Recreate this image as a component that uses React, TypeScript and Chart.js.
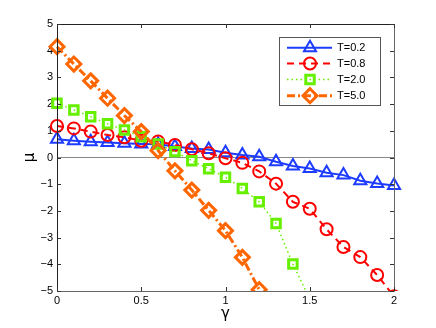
import React, { useEffect, useRef } from "react";
import { Chart, registerables } from "chart.js";

Chart.register(...registerables);

const gammaValues = [0, 0.1, 0.2, 0.3, 0.4, 0.5, 0.6, 0.7, 0.8, 0.9, 1.0, 1.1, 1.2, 1.3, 1.4, 1.5, 1.6, 1.7, 1.8, 1.9, 2.0];
const seriesLabels = ["T=0.2", "T=0.8", "T=2.0", "T=5.0"];
const muT02 = [0.68, 0.63, 0.59, 0.56, 0.53, 0.51, 0.5, 0.41, 0.34, 0.3, 0.18, 0.09, 0.03, -0.16, -0.32, -0.41, -0.57, -0.66, -0.87, -0.97, -1.05];
const muT08 = [1.18, 1.09, 0.97, 0.84, 0.76, 0.63, 0.6, 0.47, 0.31, 0.16, -0.03, -0.2, -0.52, -0.98, -1.66, -1.92, -2.69, -3.35, -3.73, -4.4, -5.2];
const muT20 = [2.03, 1.78, 1.53, 1.26, 1.03, 0.78, 0.51, 0.22, -0.12, -0.42, -0.74, -1.16, -1.66, -2.47, -3.99, -5.3];
const muT50 = [4.15, 3.5, 2.87, 2.22, 1.57, 0.97, 0.26, -0.5, -1.22, -1.98, -2.74, -3.74, -4.95, -6.3];
const xTicks = [0, 0.5, 1, 1.5, 2];
const yTicks = [-5, -4, -3, -2, -1, 0, 1, 2, 3, 4, 5];

const styles = [
  { color: "#1e3cff", dash: [] as number[], width: 2, point: "triangle", radius: 7, pbw: 2 },
  { color: "#ff0000", dash: [7, 5], width: 2, point: "circle", radius: 6, pbw: 2 },
  { color: "#66f000", dash: [1.5, 3], width: 1.5, point: "rect", radius: 6, pbw: 3 },
  { color: "#ff6600", dash: [8, 3, 2, 3], width: 3, point: "rectRot", radius: 7, pbw: 3 },
];
const allSeries = [muT02, muT08, muT20, muT50];

function drawMarker(ctx: CanvasRenderingContext2D, kind: string, x: number, y: number, r: number) {
  ctx.beginPath();
  if (kind === "circle") {
    ctx.arc(x, y, r, 0, Math.PI * 2);
  } else if (kind === "triangle") {
    ctx.moveTo(x, y - r);
    ctx.lineTo(x + r * 0.866, y + r * 0.5);
    ctx.lineTo(x - r * 0.866, y + r * 0.5);
    ctx.closePath();
  } else if (kind === "rect") {
    const s = r * 0.707;
    ctx.rect(x - s, y - s, 2 * s, 2 * s);
  } else if (kind === "rectRot") {
    ctx.moveTo(x, y - r);
    ctx.lineTo(x + r, y);
    ctx.lineTo(x, y + r);
    ctx.lineTo(x - r, y);
    ctx.closePath();
  }
  ctx.stroke();
}

const framePlugin = {
  id: "frame",
  afterDraw(chart: any) {
    const ctx: CanvasRenderingContext2D = chart.ctx;
    const { left, right, top, bottom } = chart.chartArea;
    const xs = chart.scales.x;
    const ys = chart.scales.y;
    ctx.save();
    ctx.setLineDash([]);
    ctx.lineWidth = 1;
    ctx.strokeStyle = "#222";
    ctx.beginPath();
    ctx.moveTo(left + 0.5, bottom);
    ctx.lineTo(left + 0.5, top + 0.5);
    ctx.lineTo(right + 0.5, top + 0.5);
    ctx.stroke();
    ctx.strokeStyle = "#666";
    ctx.beginPath();
    ctx.moveTo(right + 0.5, top + 0.5);
    ctx.lineTo(right + 0.5, bottom + 0.5);
    ctx.lineTo(left + 0.5, bottom + 0.5);
    ctx.stroke();
    ctx.strokeStyle = "#333";
    for (const v of xTicks) {
      const px = Math.round(xs.getPixelForValue(v)) + 0.5;
      ctx.beginPath();
      ctx.moveTo(px, bottom);
      ctx.lineTo(px, bottom - 4);
      ctx.moveTo(px, top);
      ctx.lineTo(px, top + 4);
      ctx.stroke();
    }
    for (const v of yTicks) {
      const py = Math.round(ys.getPixelForValue(v)) + 0.5;
      ctx.beginPath();
      ctx.moveTo(left, py);
      ctx.lineTo(left + 4, py);
      ctx.moveTo(right, py);
      ctx.lineTo(right - 4, py);
      ctx.stroke();
    }
    ctx.fillStyle = "#000";
    ctx.font = "15px 'DejaVu Sans'";
    ctx.textAlign = "center";
    ctx.textBaseline = "middle";
    ctx.fillText("γ", (left + right) / 2, 314);
    ctx.save();
    ctx.translate(30, (top + bottom) / 2);
    ctx.rotate(-Math.PI / 2);
    ctx.fillText("μ", 0, 0);
    ctx.restore();
    const bx = 279.5, by = 37.5, bw = 101, bh = 68;
    ctx.fillStyle = "#fff";
    ctx.fillRect(bx, by, bw, bh);
    ctx.strokeStyle = "#555";
    ctx.lineWidth = 1;
    ctx.strokeRect(bx, by, bw, bh);
    const rowsY = [47.7, 63.5, 79.5, 95.7];
    ctx.font = "11px 'Liberation Sans'";
    ctx.textAlign = "left";
    for (let i = 0; i < styles.length; i++) {
      const s = styles[i];
      const y = rowsY[i];
      ctx.strokeStyle = s.color;
      ctx.lineWidth = s.width;
      ctx.setLineDash(s.dash);
      ctx.beginPath();
      ctx.moveTo(287, y);
      ctx.lineTo(332, y);
      ctx.stroke();
      ctx.setLineDash([]);
      ctx.lineWidth = s.pbw;
      drawMarker(ctx, s.point, 310, y, s.radius);
      ctx.fillStyle = "#000";
      ctx.fillText(seriesLabels[i], 337, y + 0.5);
    }
    ctx.restore();
  },
};

export default function App() {
  const ref = useRef<HTMLCanvasElement | null>(null);
  useEffect(() => {
    document.body.style.margin = "0";
    if (!ref.current) return;
    const datasets = allSeries.map((vals, i) => {
      const s = styles[i];
      return {
        label: seriesLabels[i],
        data: vals.map((v, j) => ({ x: gammaValues[j], y: v })),
        borderColor: s.color,
        borderWidth: s.width,
        borderDash: s.dash,
        pointStyle: s.point,
        pointRadius: s.radius,
        pointBorderWidth: s.pbw,
        pointBorderColor: s.color,
        pointBackgroundColor: "rgba(0,0,0,0)",
        backgroundColor: "rgba(0,0,0,0)",
        fill: false,
        tension: 0,
        order: 3 - i,
        clip: { left: 10, right: 10, top: 0, bottom: 0 },
      };
    });
    const chart = new Chart(ref.current, {
      type: "line",
      data: { datasets: datasets as any },
      options: {
        animation: false,
        responsive: false,
        devicePixelRatio: 1,
        layout: { padding: { left: 0, top: 24, right: 42, bottom: 0 } },
        plugins: { legend: { display: false }, tooltip: { enabled: false } },
        scales: {
          x: {
            type: "linear",
            min: 0,
            max: 2,
            afterFit: (s: any) => { s.height = 37; },
            afterBuildTicks: (s: any) => { s.ticks = xTicks.map((v) => ({ value: v })); },
            ticks: {
              color: "#000",
              font: { family: "'Liberation Sans'", size: 11 },
              padding: 3,
              maxRotation: 0,
              callback: (v: any) => String(Number(v)),
            },
            grid: { display: false, drawTicks: false },
            border: { display: false },
          },
          y: {
            type: "linear",
            min: -5,
            max: 5,
            afterFit: (s: any) => { s.width = 57; },
            afterBuildTicks: (s: any) => { s.ticks = yTicks.map((v) => ({ value: v })); },
            ticks: {
              color: "#000",
              font: { family: "'Liberation Sans'", size: 11 },
              padding: 4,
              callback: (v: any) => (Number(v) < 0 ? "\u2212" + Math.abs(Number(v)) : String(v)),
            },
            grid: {
              drawTicks: false,
              color: (c: any) => (c.tick && c.tick.value === 0 ? "#888" : "rgba(0,0,0,0)"),
              lineWidth: 1,
            },
            border: { display: false },
          },
        },
      },
      plugins: [framePlugin],
    });
    return () => chart.destroy();
  }, []);
  return (
    <div style={{ width: 436, height: 328 }}>
      <canvas ref={ref} width={436} height={328} />
    </div>
  );
}
